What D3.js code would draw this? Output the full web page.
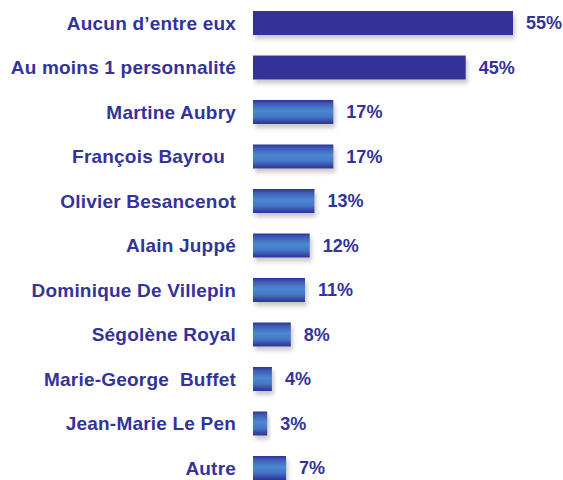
<!DOCTYPE html>
<html><head><meta charset="utf-8">
<script src="https://cdn.jsdelivr.net/npm/d3@7"></script>
<style>html,body{margin:0;padding:0;background:#fff;} text{white-space:pre;}</style>
</head><body>
<script>
const categories = ["Aucun d’entre eux","Au moins 1 personnalité","Martine Aubry","François Bayrou  ","Olivier Besancenot","Alain Juppé","Dominique De Villepin","Ségolène Royal","Marie-George  Buffet","Jean-Marie Le Pen","Autre"];
const values = [55,45,17,17,13,12,11,8,4,3,7];
const solidRows = ["Aucun d’entre eux","Au moins 1 personnalité"];

const W = 563, H = 480;
const svg = d3.select("body").append("svg").attr("width", W).attr("height", H);
const defs = svg.append("defs");
const g = defs.append("linearGradient").attr("id","grad").attr("x1",0).attr("y1",0).attr("x2",0).attr("y2",1);
[[0,"#2f3196"],[0.15,"#3d5bb8"],[0.45,"#4d88d2"],[0.7,"#4576c6"],[0.9,"#3546a6"],[1,"#2f3196"]].forEach(([o,c])=>g.append("stop").attr("offset",o).attr("stop-color",c));
const f = defs.append("filter").attr("id","shadow").attr("x","-10%").attr("y","-30%").attr("width","130%").attr("height","190%");
f.append("feDropShadow").attr("dx",2).attr("dy",4).attr("stdDeviation",2).attr("flood-color","#888").attr("flood-opacity",0.45);

const x = d3.scaleLinear().domain([0,55]).range([253,513]);
const y = d3.scalePoint().domain(categories).range([23,468]);
const bh = 24;
const data = categories.map((c,i)=>({c, v: values[i]}));

svg.selectAll("rect.bar").data(data).join("rect")
  .attr("class","bar")
  .attr("x", x(0))
  .attr("y", d=>y(d.c)-bh/2)
  .attr("width", d=>x(d.v)-x(0))
  .attr("height", bh)
  .attr("fill", d=> solidRows.includes(d.c) ? "#333399" : "url(#grad)")
  .attr("filter","url(#shadow)");

svg.selectAll("text.cat").data(data).join("text")
  .attr("class","cat")
  .attr("x", 236)
  .attr("y", d=>y(d.c))
  .attr("dy","0.36em")
  .attr("text-anchor","end")
  .attr("font-family","Liberation Sans, Arial, sans-serif")
  .attr("font-weight","bold")
  .attr("font-size",19)
  .attr("letter-spacing",0.2)
  .attr("fill","#333399")
  .text(d=>d.c);

svg.selectAll("text.val").data(data).join("text")
  .attr("class","val")
  .attr("x", d=>x(d.v)+13)
  .attr("y", d=>y(d.c))
  .attr("dy","0.36em")
  .attr("font-family","Liberation Sans, Arial, sans-serif")
  .attr("font-weight","bold")
  .attr("font-size",18)
  .attr("fill","#333399")
  .text(d=>d.v+"%");
</script>
</body></html>
